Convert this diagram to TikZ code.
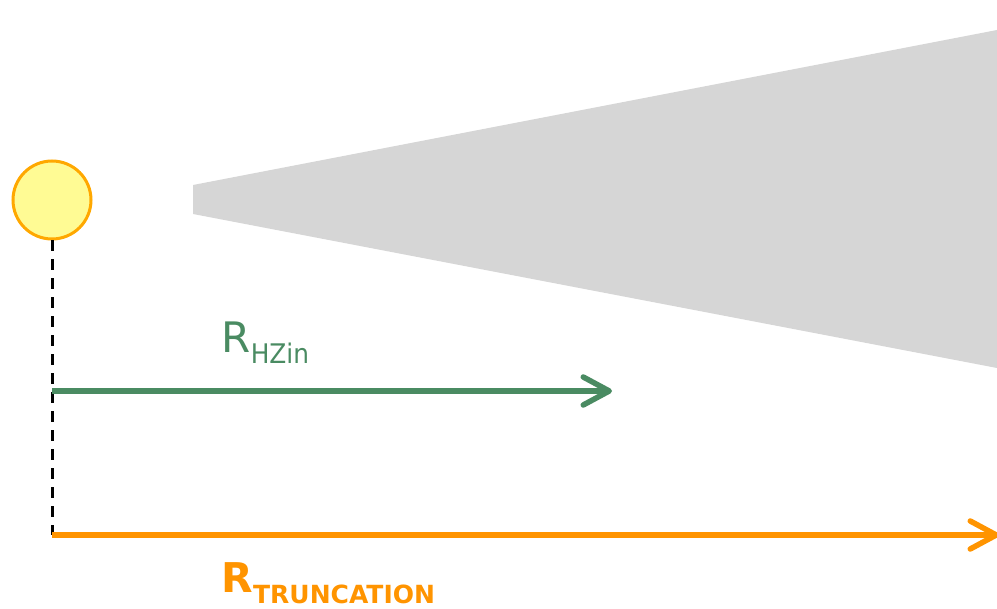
\documentclass[tikz,border=0pt]{standalone}
\usepackage{fontspec}
\setmainfont{DejaVu Sans}
\newfontfamily\narrowsans{DejaVu Sans}[FakeStretch=0.92]
\usetikzlibrary{arrows.meta}
\definecolor{sunfill}{HTML}{FFFB94}
\definecolor{sunedge}{HTML}{FFA800}
\definecolor{conegray}{HTML}{D6D6D6}
\definecolor{hzgreen}{HTML}{4A8B62}
\definecolor{truncorange}{HTML}{FF9400}
\tikzset{
  star/.style={circle, draw=sunedge, fill=sunfill, line width=3pt, minimum size=78pt, inner sep=0pt},
  dropline/.style={draw=black, line width=3pt, dash pattern=on 11pt off 8pt},
  rangearrow/.style={line width=5.5pt, -{Straight Barb[length=26pt, width=28pt, round]}},
  bigR/.style={anchor=base west, inner sep=0pt, text depth=0pt, font=\fontsize{42}{42}\selectfont},
  subR/.style={anchor=base west, inner sep=0pt, text depth=0pt, font=\narrowsans\fontsize{27}{27}\selectfont},
}
\begin{document}
\begin{tikzpicture}[x=1pt, y=-1pt]
  \useasboundingbox (0,0) rectangle (997,609);
  % shadow cone behind the star
  \fill[conegray] (193,185) -- (997,30) -- (997,368) -- (193,214) -- cycle;
  % star and its vertical reference line
  \node[star] (sun) at (52,200) {};
  \coordinate (hzstart) at (52,391);
  \coordinate (hzend) at (612,391);
  \coordinate (trstart) at (52,535);
  \coordinate (trend) at (999,535);
  \draw[dropline] (sun.south) -- (trstart);
  % habitable-zone inner radius
  \draw[rangearrow, draw=hzgreen] (hzstart) -- (hzend);
  \node[bigR, text=hzgreen] (hzR) at (221,353) {R};
  \node[subR, text=hzgreen] (hzsub) at ([yshift=-11pt]hzR.base east) {HZin};
  % truncation radius
  \draw[rangearrow, draw=truncorange] (trstart) -- (trend);
  \node[bigR, text=truncorange, font=\fontsize{41}{41}\selectfont\bfseries] (trR) at (221,593) {R};
  \node[subR, text=truncorange, font=\fontsize{25}{25}\selectfont\bfseries] (trsub) at ([yshift=-11pt]trR.base east) {TRUNCATION};
\end{tikzpicture}
\end{document}
